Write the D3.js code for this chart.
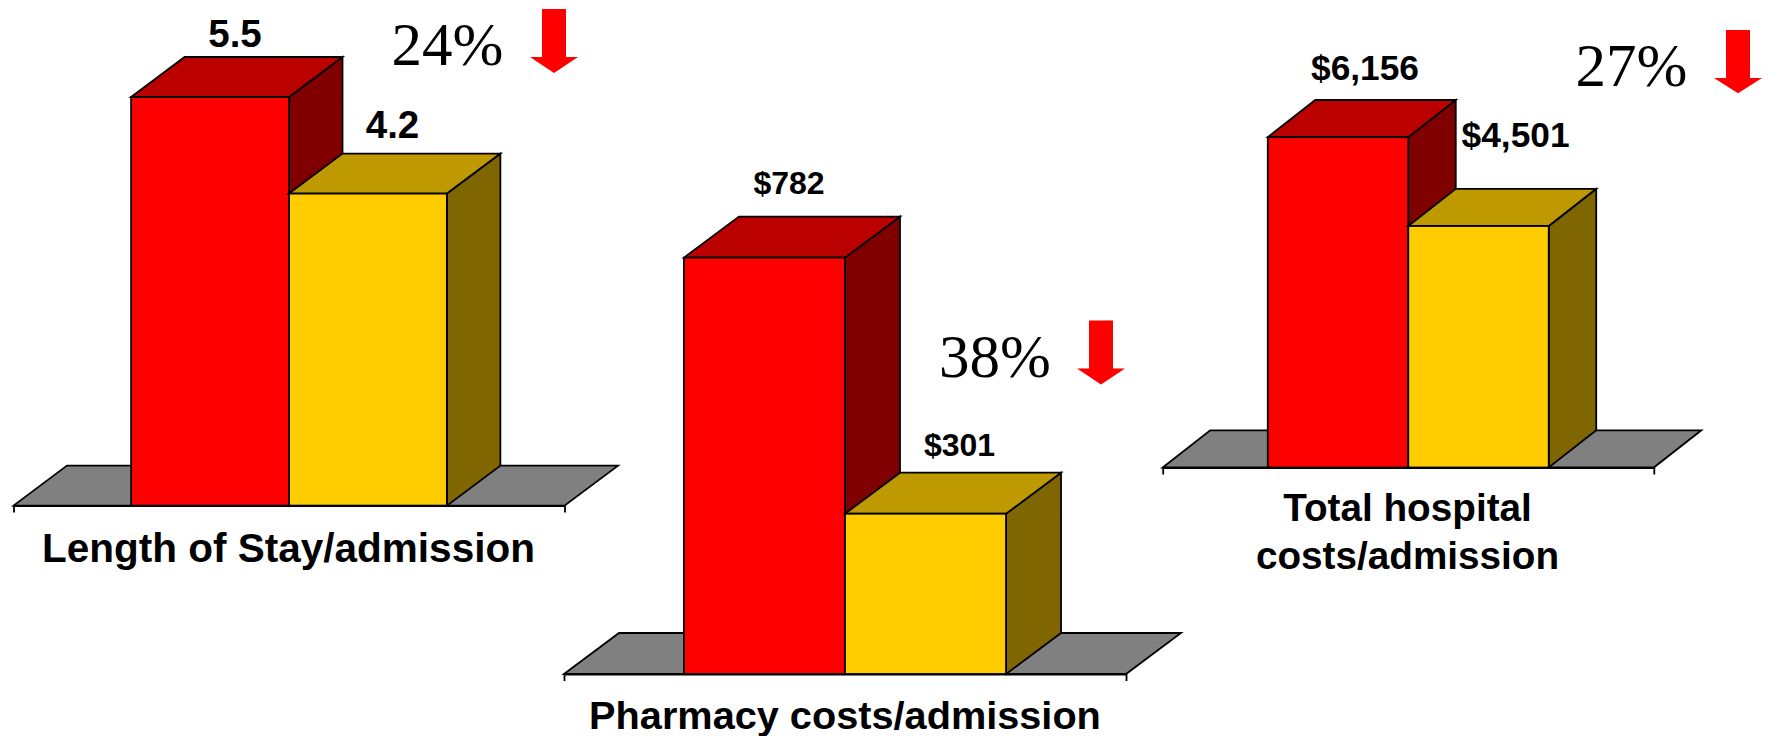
<!DOCTYPE html>
<html>
<head>
<meta charset="utf-8">
<script src="https://cdn.jsdelivr.net/npm/d3@7/dist/d3.min.js"></script>
<style>
  html, body { margin: 0; padding: 0; background: #fff; }
  svg { display: block; }
  .value { font: bold 32px "Liberation Sans", Arial, sans-serif; fill: #000; text-anchor: middle; }
  .title { font: bold 40px "Liberation Sans", Arial, sans-serif; fill: #000; text-anchor: middle; }
  .change { font: 61px "Liberation Serif", "Times New Roman", serif; fill: #000; }
</style>
</head>
<body>
<script>
// Admission metrics before and after the programme
const periods = ["Before", "After"];
const metrics = ["Length of Stay/admission", "Pharmacy costs/admission", "Total hospital costs/admission"];
const beforeValues = [5.5, 782, 6156];
const afterValues = [4.2, 301, 4501];
const reductionLabels = ["24%", "38%", "27%"];
const valueFormats = [".1f", "$,", "$,"];
const metricTitleLines = [
  ["Length of Stay/admission"],
  ["Pharmacy costs/admission"],
  ["Total hospital", "costs/admission"]
];

// Placement of each small chart on the page
const panelLayouts = [
  { left: 13.5, right: 564.5, base: 505.6, top: 97, dx: 53.5, dy: 40, outer: 0.745,
    labelX: [235, 392.5], labelY: [46.5, 137.8], fontSize: 38.5,
    titleX: 288.5, titleY: [562], titleSize: 40.5, changeX: 391.5, changeY: 65,
    arrow: { x: 554, half: 12, headHalf: 24, top: 9, shoulder: 57, tip: 73 } },
  { left: 564, right: 1126, base: 674, top: 257.6, dx: 55, dy: 41, outer: 0.745,
    labelX: [789, 959.5], labelY: [193.5, 455.5], fontSize: 32,
    titleX: 845, titleY: [729], titleSize: 39.7, changeX: 939, changeY: 376.5,
    arrow: { x: 1101, half: 12, headHalf: 24, top: 320.5, shoulder: 368.5, tip: 384.5 } },
  { left: 1162.7, right: 1653.8, base: 467.5, top: 137.2, dx: 47.5, dy: 37.2, outer: 0.748,
    labelX: [1365, 1515.6], labelY: [79.5, 146.5], fontSize: 35.3,
    titleX: 1407.5, titleY: [521, 569], titleSize: 38.7, changeX: 1575.5, changeY: 86,
    arrow: { x: 1738, half: 12, headHalf: 24, top: 30, shoulder: 78, tip: 93.3 } }
];

const palette = {
  Before: { front: "#ff0000", top: "#bb0000", side: "#800000" },
  After: { front: "#ffcc00", top: "#bf9900", side: "#806600" }
};
const floorColor = "#808080";

const svg = d3.select("body").append("svg").attr("width", 1771).attr("height", 736);
const poly = d3.line().curve(d3.curveLinearClosed);

metrics.forEach((metric, i) => {
  const L = panelLayouts[i];
  const values = [beforeValues[i], afterValues[i]];
  const g = svg.append("g").attr("class", "panel").attr("aria-label", metric);

  const x = d3.scaleBand().domain(periods).range([L.left, L.right]).paddingInner(0).paddingOuter(L.outer);
  const y = d3.scaleLinear().domain([0, beforeValues[i]]).range([L.base, L.top]);

  // Grey floor plane behind the bars
  g.append("path")
    .attr("d", poly([
      [L.left, L.base], [L.left + L.dx, L.base - L.dy],
      [L.right + L.dx, L.base - L.dy], [L.right, L.base]
    ]))
    .attr("fill", floorColor).attr("stroke", "#000").attr("stroke-width", 1.8).attr("stroke-linejoin", "miter");

  // Category axis: only the end ticks are shown
  const axis = d3.axisBottom(x).tickValues([]).tickSizeOuter(7);
  g.append("g").attr("transform", `translate(0,${L.base})`).call(axis)
    .call(s => s.select(".domain").attr("stroke", "#000").attr("stroke-width", 1.8));

  // Extruded bars: side and top faces first, then the front
  const bars = g.selectAll("g.bar").data(periods.map((p, j) => ({ p, v: values[j] })))
    .join("g").attr("class", "bar");
  const shared = s => s.attr("stroke", "#000").attr("stroke-width", 1.8).attr("stroke-linejoin", "miter");

  bars.append("path").attr("class", "side").call(shared)
    .attr("fill", d => palette[d.p].side)
    .attr("d", d => {
      const r = x(d.p) + x.bandwidth(), t = y(d.v);
      return poly([[r, t], [r + L.dx, t - L.dy], [r + L.dx, L.base - L.dy], [r, L.base]]);
    });
  bars.append("path").attr("class", "top").call(shared)
    .attr("fill", d => palette[d.p].top)
    .attr("d", d => {
      const l = x(d.p), r = l + x.bandwidth(), t = y(d.v);
      return poly([[l, t], [l + L.dx, t - L.dy], [r + L.dx, t - L.dy], [r, t]]);
    });
  bars.append("rect").attr("class", "front").call(shared)
    .attr("fill", d => palette[d.p].front)
    .attr("x", d => x(d.p)).attr("width", x.bandwidth())
    .attr("y", d => y(d.v)).attr("height", d => L.base - y(d.v));

  // Value labels above each bar
  const fmt = d3.format(valueFormats[i]);
  g.selectAll("text.value").data(values).join("text")
    .attr("class", "value")
    .style("font-size", L.fontSize + "px")
    .attr("x", (d, j) => L.labelX[j]).attr("y", (d, j) => L.labelY[j])
    .text(d => fmt(d));

  // Metric title under the floor
  g.selectAll("text.title").data(metricTitleLines[i]).join("text")
    .attr("class", "title")
    .style("font-size", L.titleSize + "px")
    .attr("x", L.titleX).attr("y", (d, j) => L.titleY[j])
    .text(d => d);

  // Reduction figure with its downward arrow
  g.append("text").attr("class", "change")
    .attr("x", L.changeX).attr("y", L.changeY).text(reductionLabels[i]);
  const a = L.arrow;
  g.append("path").attr("fill", "#ff0000")
    .attr("d", poly([
      [a.x - a.half, a.top], [a.x + a.half, a.top], [a.x + a.half, a.shoulder],
      [a.x + a.headHalf, a.shoulder], [a.x, a.tip], [a.x - a.headHalf, a.shoulder], [a.x - a.half, a.shoulder]
    ]));
});
</script>
</body>
</html>
